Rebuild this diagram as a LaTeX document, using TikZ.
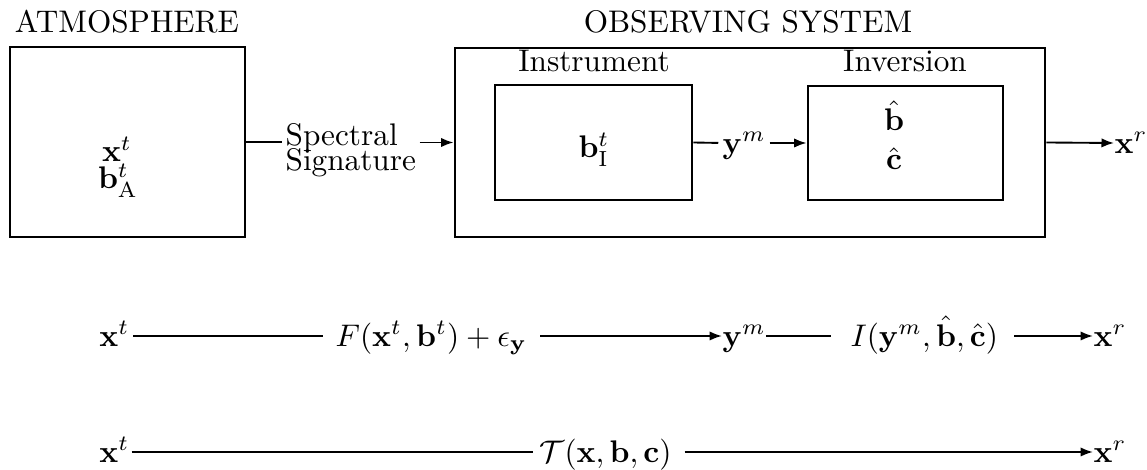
\documentclass[tikz,border=0pt]{standalone}
\usetikzlibrary{arrows.meta}
\begin{document}
\begin{tikzpicture}[x=0.32pt,y=-0.32pt,
  box/.style={draw,line width=0.9pt,inner sep=0pt},
  lbl/.style={inner sep=0pt,anchor=base},
  rowtext/.style={inner sep=0pt,text height=8.5pt,text depth=2pt},
  conn/.style={line width=0.6pt},
  arr/.style={line width=0.6pt,-{Latex[length=4pt,width=3pt]}}]
\useasboundingbox (0,0) rectangle (1147,470);
% titles
\node[lbl] (tatm) at (127,33) {ATMOSPHERE};
\node[lbl] (tobs) at (748,33) {OBSERVING SYSTEM};
% boxes
\node[box,minimum width=75.2pt,minimum height=60.8pt] (atm) at (127.5,142) {};
\node[box,minimum width=188.8pt,minimum height=60.5pt] (obs) at (750,142.5) {};
\node[box,minimum width=63pt,minimum height=36.8pt] (ins) at (593.5,142.5) {};
\node[box,minimum width=62.4pt,minimum height=36.5pt] (inv) at (905.5,143) {};
% box labels
\node[lbl] (tins) at (594,72) {Instrument};
\node[lbl] (tinv) at (905,72) {Inversion};
% box contents
\node[lbl] (ax) at (117,162) {$\mathbf{x}^t$};
\node[lbl] (ab) at (118,189) {$\mathbf{b}^t_{\mathrm{A}}$};
\node[lbl] (ib) at (594,158) {$\mathbf{b}^t_{\mathrm{I}}$};
\node[lbl] (vb) at (894,131) {$\hat{\mathbf{b}}$};
\node[lbl] (vc) at (894,170) {$\hat{\mathbf{c}}$};
% spectral signature
\node[inner sep=0pt,anchor=base west,align=left] (sig) at (285,171) {Spectral\\[-3.7pt]Signature};
\node[rowtext,anchor=west] (ym1) at (722,143) {$\mathbf{y}^m$};
\node[rowtext,anchor=west] (xr1) at (1114,143) {$\mathbf{x}^r$};
\draw[conn,shorten >=1pt] (atm.east) -- (atm.east -| sig.west);
\draw[arr,shorten <=1pt] (sig.east |- obs.west) -- (obs.west);
\draw[conn,shorten >=1.2pt] (ins.east) -- (ym1.west);
\draw[arr,shorten <=1pt] (ym1.east) -- (inv.west);
\draw[arr] (obs.east) -- (xr1.west);
% row 2
\node[rowtext,anchor=east] (x2t) at (130,336) {$\mathbf{x}^t$};
\node[rowtext,anchor=west] (F) at (335,336) {$F(\mathbf{x}^t,\mathbf{b}^t)+\epsilon_{\mathbf{y}}$};
\node[rowtext,anchor=west] (y2m) at (722,336) {$\mathbf{y}^m$};
\node[rowtext,anchor=west] (I) at (850,336) {$I(\mathbf{y}^m,\hat{\mathbf{b}},\hat{\mathbf{c}})$};
\node[rowtext,anchor=west] (x2r) at (1093,336) {$\mathbf{x}^r$};
\draw[conn,shorten <=1pt,shorten >=4pt] (x2t.east) -- (F.west);
\draw[arr,shorten <=4pt] (F.east) -- (y2m.west);
\draw[conn,shorten >=6pt] (y2m.east) -- (I.west);
\draw[arr,shorten <=5pt] (I.east) -- (x2r.west);
% row 3
\node[rowtext,anchor=east] (x3t) at (130,452) {$\mathbf{x}^t$};
\node[rowtext,anchor=west] (T) at (539,452) {$\mathcal{T}(\mathbf{x},\mathbf{b},\mathbf{c})$};
\node[rowtext,anchor=west] (x3r) at (1093,452) {$\mathbf{x}^r$};
\draw[conn,shorten <=0.5pt,shorten >=2pt] (x3t.east) -- (T.west);
\draw[arr,shorten <=4pt] (T.east) -- (x3r.west);
\end{tikzpicture}
\end{document}
